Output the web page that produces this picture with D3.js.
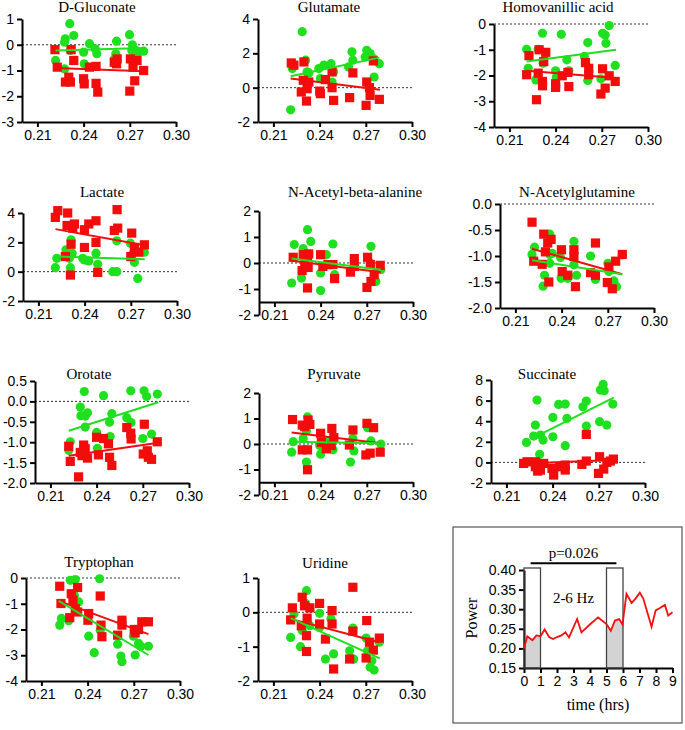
<!DOCTYPE html>
<html><head><meta charset="utf-8">
<script src="https://cdn.jsdelivr.net/npm/d3@7"></script>
<style>body{margin:0;background:#fff}svg{display:block}</style>
</head><body>
<script>
// ---------- DATA ----------
const xTickValues = [0.21, 0.24, 0.27, 0.30];

const gluconateGreen = [[0.231,0.82],[0.2336,0.36],[0.2281,0.23],[0.2276,0.10],[0.2314,-0.22],[0.2218,-0.61],[0.2277,-0.94],[0.240,-0.29],[0.2404,-0.74],[0.2438,0.04],[0.2475,-0.16],[0.2486,-0.35],[0.2614,0.14],[0.2609,-0.35],[0.260,-0.55],[0.2698,0.39],[0.2717,0.0],[0.2713,-0.22],[0.274,-0.22],[0.2751,-0.35],[0.279,-0.25]];
const gluconateRed = [[0.2214,-0.19],[0.2229,-0.87],[0.2319,-0.19],[0.2336,-0.61],[0.2282,-1.45],[0.2304,-1.26],[0.2314,-1.45],[0.240,-1.32],[0.2404,-1.52],[0.2438,-0.87],[0.2481,-0.84],[0.2481,-1.50],[0.2492,-1.84],[0.2599,-0.68],[0.2618,-0.55],[0.2614,-0.74],[0.2704,-0.55],[0.2721,-0.87],[0.2747,-0.61],[0.2732,-1.40],[0.270,-1.80],[0.279,-1.00]];
const gluconateFitGreen = [[0.2218,-0.22],[0.279,-0.13]];
const gluconateFitRed = [[0.2218,-0.90],[0.279,-1.03]];
const gluconateYTicks = [1,0,-1,-2,-3];

const glutamateGreen = [[0.2287,3.26],[0.2212,-1.29],[0.2223,1.11],[0.2309,1.60],[0.2319,0.92],[0.233,0.86],[0.2395,1.11],[0.2427,1.31],[0.2474,1.40],[0.2491,0.92],[0.2405,0.53],[0.2481,0.33],[0.261,2.09],[0.2616,1.60],[0.2588,1.21],[0.2706,2.18],[0.2728,1.99],[0.2696,1.79],[0.2749,1.70],[0.2788,1.40],[0.2754,0.62]];
const glutamateRed = [[0.2216,1.44],[0.2233,1.31],[0.2298,1.50],[0.2294,0.43],[0.233,0.33],[0.2281,-0.25],[0.2319,-0.06],[0.2315,-0.78],[0.2401,-0.20],[0.2405,-0.35],[0.2438,0.47],[0.2481,0.92],[0.2481,0.0],[0.2491,-0.74],[0.2595,-0.58],[0.2616,0.86],[0.2706,0.33],[0.2724,0.0],[0.2728,-0.45],[0.2702,-1.03],[0.2749,1.56],[0.2788,-0.68]];
const glutamateFitGreen = [[0.2212,0.66],[0.2788,1.75]];
const glutamateFitRed = [[0.2212,0.53],[0.2792,-0.12]];
const glutamateYTicks = [4,2,0,-2];

const homovanillicGreen = [[0.2212,-0.98],[0.2222,-1.72],[0.2272,-2.17],[0.2315,-0.36],[0.2287,-0.98],[0.2319,-1.52],[0.2437,-0.40],[0.240,-1.82],[0.2405,-2.06],[0.2473,-1.39],[0.2486,-1.82],[0.2587,-1.26],[0.2609,-0.72],[0.2609,-2.19],[0.2705,-0.36],[0.2722,-0.43],[0.2727,-0.75],[0.2748,-0.06],[0.2694,-2.13],[0.2787,-1.61]];
const homovanillicRed = [[0.2227,-1.23],[0.2212,-1.97],[0.2276,-2.94],[0.2293,-1.0],[0.2336,-1.10],[0.2287,-1.91],[0.2315,-2.23],[0.2315,-2.40],[0.2323,-1.46],[0.240,-2.32],[0.240,-2.46],[0.2443,-2.01],[0.248,-1.88],[0.2486,-2.43],[0.2594,-1.50],[0.2615,-1.72],[0.2615,-1.97],[0.2705,-1.74],[0.2722,-2.49],[0.2694,-2.72],[0.2748,-2.01],[0.2787,-2.23]];
const homovanillicFitGreen = [[0.2212,-1.46],[0.2792,-1.0]];
const homovanillicFitRed = [[0.2212,-1.82],[0.2792,-2.10]];
const homovanillicYTicks = [0,-1,-2,-3,-4];

const lactateGreen = [[0.221,0.27],[0.222,0.91],[0.2279,1.49],[0.2312,2.17],[0.2319,1.26],[0.2301,0.91],[0.2308,0.27],[0.2388,0.91],[0.2399,0.80],[0.2427,0.73],[0.2474,1.26],[0.2485,0.50],[0.2583,0.0],[0.2609,0.0],[0.2609,2.10],[0.2697,1.94],[0.2708,1.14],[0.2723,0.64],[0.2745,-0.46],[0.2788,1.33]];
const lactateRed = [[0.221,3.70],[0.2226,4.16],[0.229,4.0],[0.2286,3.15],[0.2323,2.97],[0.2334,3.25],[0.2312,1.87],[0.2275,1.03],[0.2308,-0.23],[0.2399,2.86],[0.2427,3.25],[0.2474,3.47],[0.2474,1.99],[0.2399,1.65],[0.2485,-0.05],[0.2593,2.81],[0.2615,2.97],[0.2611,4.23],[0.2706,2.63],[0.2723,1.65],[0.270,1.03],[0.2752,1.33],[0.2788,1.83]];
const lactateFitGreen = [[0.2216,1.03],[0.279,0.85]];
const lactateFitRed = [[0.2211,2.90],[0.279,1.80]];
const lactateYTicks = [4,2,0,-2];

const acetylAlanineGreen = [[0.2229,0.71],[0.2212,-0.77],[0.2287,0.55],[0.2315,1.28],[0.2336,0.83],[0.2276,-0.58],[0.2437,0.32],[0.240,-0.38],[0.240,-1.06],[0.248,0.73],[0.2491,-0.45],[0.2727,0.64],[0.2759,-0.71],[0.2791,-0.26],[0.2723,0.0]];
const acetylAlanineRed = [[0.2222,0.22],[0.2287,0.32],[0.2315,0.26],[0.2323,0.35],[0.228,-0.29],[0.2297,-0.06],[0.2319,-0.17],[0.2315,-0.96],[0.240,0.32],[0.2415,-0.13],[0.2448,-0.06],[0.248,-0.06],[0.2491,-0.60],[0.2594,-0.35],[0.2619,0.17],[0.2619,-0.13],[0.2705,0.22],[0.2701,-0.94],[0.2723,-0.06],[0.2727,-0.71],[0.2748,-0.45],[0.2787,-0.09]];
const acetylAlanineFitGreen = [[0.2212,0.17],[0.2791,-0.26]];
const acetylAlanineFitRed = [[0.2212,0.09],[0.2791,-0.36]];
const acetylAlanineYTicks = [2,1,0,-1,-2];

const acetylGlutamineGreen = [[0.2224,-0.83],[0.2208,-0.97],[0.2289,-1.37],[0.228,-1.58],[0.2323,-0.58],[0.2323,-0.97],[0.2323,-1.14],[0.2339,-0.95],[0.2393,-1.03],[0.2397,-1.43],[0.244,-1.43],[0.248,-0.72],[0.248,-1.17],[0.2497,-1.37],[0.2588,-1.0],[0.262,-1.45],[0.2701,-1.14],[0.2707,-1.30],[0.274,-1.48],[0.2757,-1.59],[0.2794,-0.98]];
const acetylGlutamineRed = [[0.2208,-0.35],[0.2219,-1.10],[0.2274,-1.16],[0.2284,-0.58],[0.2295,-0.92],[0.231,-0.75],[0.2332,-0.68],[0.2317,-1.50],[0.2399,-0.88],[0.2404,-1.30],[0.244,-1.37],[0.248,-0.88],[0.248,-1.01],[0.249,-1.59],[0.2588,-1.32],[0.262,-1.37],[0.262,-0.75],[0.2697,-1.51],[0.2707,-1.21],[0.2729,-1.63],[0.2751,-1.10],[0.2794,-0.97]];
const acetylGlutamineFitGreen = [[0.2208,-1.08],[0.2794,-1.35]];
const acetylGlutamineFitRed = [[0.2208,-0.86],[0.2794,-1.35]];
const acetylGlutamineYTicks = [0,-0.5,-1,-1.5,-2];

const orotateGreen = [[0.232,0.24],[0.2229,-0.99],[0.2219,-1.20],[0.2294,-0.14],[0.2298,-0.35],[0.2326,-0.36],[0.2341,-0.28],[0.2326,-0.63],[0.2445,0.14],[0.240,-0.76],[0.2405,-1.15],[0.2484,-0.51],[0.2499,-0.30],[0.2488,-0.86],[0.2596,-0.40],[0.2624,-0.52],[0.2622,0.26],[0.2708,0.26],[0.2725,0.12],[0.2794,0.18],[0.270,-0.91],[0.2757,-0.80]];
const orotateRed = [[0.2219,-1.10],[0.2229,-1.47],[0.2283,-1.85],[0.2294,-1.25],[0.2316,-1.07],[0.2326,-1.16],[0.2305,-1.33],[0.2341,-1.39],[0.240,-0.88],[0.2412,-1.31],[0.2445,-0.91],[0.2477,-1.04],[0.2484,-1.37],[0.2499,-1.57],[0.2596,-0.64],[0.2622,-0.78],[0.2624,-0.92],[0.271,-0.56],[0.2703,-1.29],[0.2729,-1.21],[0.2736,-1.37],[0.2757,-1.42],[0.2794,-0.99]];
const orotateFitGreen = [[0.2219,-0.72],[0.2800,-0.02]];
const orotateFitRed = [[0.2219,-1.33],[0.2790,-1.02]];
const orotateYTicks = [0.5,0,-0.5,-1,-1.5,-2];

const pyruvateGreen = [[0.2222,0.09],[0.2212,-0.32],[0.2287,0.22],[0.2315,1.06],[0.2308,0.51],[0.2308,-0.71],[0.2394,-0.06],[0.240,-0.40],[0.2437,0.12],[0.248,-0.23],[0.2594,-0.71],[0.261,0.22],[0.2616,-0.27],[0.2705,0.64],[0.2727,0.12],[0.2791,0.0]];
const pyruvateRed = [[0.2218,0.96],[0.2281,0.74],[0.2319,0.94],[0.233,0.77],[0.2297,0.68],[0.2281,-0.23],[0.2315,-0.23],[0.2315,-1.01],[0.240,0.42],[0.2405,0.06],[0.2437,-0.19],[0.2473,0.61],[0.2486,0.25],[0.2469,-0.06],[0.2587,-0.04],[0.261,0.55],[0.2701,0.81],[0.2744,0.64],[0.2694,-0.43],[0.2722,-0.36],[0.2787,-0.32]];
const pyruvateFitGreen = [[0.2212,0.09],[0.2791,0.03]];
const pyruvateFitRed = [[0.2212,0.45],[0.2791,0.03]];
const pyruvateYTicks = [2,1,0,-1,-2];

const succinateGreen = [[0.223,1.94],[0.2299,6.05],[0.2288,3.62],[0.2277,2.56],[0.2321,2.65],[0.2338,2.17],[0.2316,0.78],[0.2402,4.37],[0.2402,2.49],[0.2439,5.63],[0.2482,5.66],[0.2493,4.27],[0.2482,1.62],[0.2597,5.40],[0.2619,5.95],[0.2619,3.53],[0.2705,3.95],[0.271,7.02],[0.2728,7.57],[0.2735,6.96],[0.2752,3.62],[0.2791,5.66]];
const succinateRed = [[0.2619,2.72],[0.2212,-0.10],[0.2234,0.06],[0.2288,0.06],[0.2288,-0.42],[0.2303,-0.84],[0.2321,-0.74],[0.2342,-0.10],[0.2396,-0.58],[0.2407,-1.23],[0.2446,-0.42],[0.2482,-0.74],[0.2482,-0.26],[0.259,-0.19],[0.2619,0.13],[0.2705,0.55],[0.2698,-1.07],[0.2732,-0.65],[0.2752,0.0],[0.2775,0.13],[0.2795,0.32]];
const succinateFitGreen = [[0.2333,2.82],[0.2797,6.28]];
const succinateFitRed = [[0.2212,-0.10],[0.2797,0.23]];
const succinateYTicks = [8,6,4,2,0,-2];

const tryptophanGreen = [[0.2288,-0.09],[0.232,-0.06],[0.2219,-1.83],[0.223,-1.57],[0.2277,-1.66],[0.2314,-0.67],[0.2342,-0.93],[0.2478,-0.03],[0.2407,-2.26],[0.2443,-2.90],[0.2482,-2.03],[0.2595,-2.57],[0.2616,-3.03],[0.2623,-3.25],[0.2709,-2.99],[0.2698,-2.26],[0.2731,-2.54],[0.2746,-2.65],[0.2795,-2.65]];
const tryptophanRed = [[0.2219,-0.32],[0.2227,-0.99],[0.2284,-1.54],[0.2294,-0.61],[0.2305,-0.86],[0.2335,-0.37],[0.232,-1.19],[0.2335,-1.32],[0.2407,-1.38],[0.2402,-1.64],[0.2482,-0.70],[0.2487,-1.83],[0.2493,-2.28],[0.2595,-2.22],[0.2623,-1.64],[0.2623,-1.83],[0.2703,-2.0],[0.2709,-2.13],[0.2731,-2.0],[0.2752,-1.70],[0.2795,-1.70]];
const tryptophanFitGreen = [[0.2212,-0.89],[0.2795,-2.99]];
const tryptophanFitRed = [[0.2212,-0.89],[0.2795,-2.18]];
const tryptophanYTicks = [0,-1,-2,-3,-4];

const uridineGreen = [[0.2212,-0.73],[0.2233,-0.05],[0.2276,-1.0],[0.2287,-0.53],[0.2315,0.63],[0.2309,0.26],[0.2337,-0.39],[0.240,-0.03],[0.240,-0.44],[0.2438,-1.36],[0.2474,-0.19],[0.2491,-1.21],[0.2595,-1.12],[0.2616,-0.46],[0.2621,-1.36],[0.2702,-0.75],[0.2711,-1.12],[0.2739,-1.41],[0.2728,-1.60],[0.2754,-1.68],[0.2788,-0.87]];
const uridineRed = [[0.2223,0.13],[0.2212,-0.22],[0.2287,0.44],[0.2302,0.19],[0.2337,0.13],[0.2281,-0.39],[0.2319,-0.17],[0.2315,-0.68],[0.2315,-1.14],[0.240,0.26],[0.240,-0.34],[0.2438,-0.78],[0.2481,0.05],[0.2481,-0.34],[0.2491,-1.65],[0.2616,0.73],[0.2616,-0.55],[0.2595,-1.36],[0.2706,-0.24],[0.2702,-1.33],[0.2724,-0.87],[0.2749,-1.10],[0.2788,-0.75]];
const uridineFitGreen = [[0.2212,-0.17],[0.2791,-1.34]];
const uridineFitRed = [[0.2212,-0.19],[0.2787,-0.87]];
const uridineYTicks = [1,0,-1,-2];

// power time series (hrs, power)
const powerTime = [0,0.2,0.51,0.75,1.0,1.25,1.52,1.76,2.0,2.27,2.51,2.73,3.22,3.48,3.99,4.49,5.0,5.26,5.51,5.77,5.97,6.21,6.52,6.76,7.02,7.23,7.73,7.98,8.24,8.54,8.74,9.0];
const powerValue = [0.200,0.231,0.221,0.233,0.231,0.248,0.229,0.224,0.229,0.233,0.241,0.228,0.275,0.241,0.261,0.279,0.262,0.245,0.271,0.275,0.261,0.339,0.316,0.327,0.342,0.327,0.255,0.297,0.303,0.311,0.284,0.292];
const powerXTicks = [0,1,2,3,4,5,6,7,8,9];
const powerYTicks = [0.15,0.20,0.25,0.30,0.35,0.40];
const shadedWindows = [[0,1],[5,6]];
const bracket = {from:0.4, to:5.6, level:0.417, label:"p=0.026"};

// ---------- LAYOUT ----------
const panels = [
 {title:"D-Gluconate", g:gluconateGreen, r:gluconateRed, fg:gluconateFitGreen, fr:gluconateFitRed, yt:gluconateYTicks, dec:0, ax:22, y0:19, y1:122, xAt:-3, tx:97, ty:12},
 {title:"Glutamate", g:glutamateGreen, r:glutamateRed, fg:glutamateFitGreen, fr:glutamateFitRed, yt:glutamateYTicks, dec:0, ax:258, y0:19, y1:122, xAt:-2, tx:329, ty:12},
 {title:"Homovanillic acid", g:homovanillicGreen, r:homovanillicRed, fg:homovanillicFitGreen, fr:homovanillicFitRed, yt:homovanillicYTicks, dec:0, ax:494, y0:24, y1:127, xAt:-4, tx:558, ty:12},
 {title:"Lactate", g:lactateGreen, r:lactateRed, fg:lactateFitGreen, fr:lactateFitRed, yt:lactateYTicks, dec:0, ax:23, y0:213, y1:301, xAt:-2, tx:102, ty:197},
 {title:"N-Acetyl-beta-alanine", g:acetylAlanineGreen, r:acetylAlanineRed, fg:acetylAlanineFitGreen, fr:acetylAlanineFitRed, yt:acetylAlanineYTicks, dec:0, ax:259, y0:211, y1:315, xAt:-1.5, tx:355, ty:197},
 {title:"N-Acetylglutamine", g:acetylGlutamineGreen, r:acetylGlutamineRed, fg:acetylGlutamineFitGreen, fr:acetylGlutamineFitRed, yt:acetylGlutamineYTicks, dec:1, ax:500, y0:204, y1:308, xAt:-2, tx:577, ty:197},
 {title:"Orotate", g:orotateGreen, r:orotateRed, fg:orotateFitGreen, fr:orotateFitRed, yt:orotateYTicks, dec:1, ax:35, y0:381, y1:483, xAt:-2, tx:89, ty:379},
 {title:"Pyruvate", g:pyruvateGreen, r:pyruvateRed, fg:pyruvateFitGreen, fr:pyruvateFitRed, yt:pyruvateYTicks, dec:0, ax:259, y0:393, y1:495, xAt:-1.5, tx:334, ty:379},
 {title:"Succinate", g:succinateGreen, r:succinateRed, fg:succinateFitGreen, fr:succinateFitRed, yt:succinateYTicks, dec:0, ax:491, y0:380, y1:483, xAt:-2, tx:547, ty:379},
 {title:"Tryptophan", g:tryptophanGreen, r:tryptophanRed, fg:tryptophanFitGreen, fr:tryptophanFitRed, yt:tryptophanYTicks, dec:0, ax:26, y0:578, y1:681, xAt:-4, tx:99, ty:567},
 {title:"Uridine", g:uridineGreen, r:uridineRed, fg:uridineFitGreen, fr:uridineFitRed, yt:uridineYTicks, dec:0, ax:258, y0:578, y1:681, xAt:-2, tx:325, ty:568}
];

const GREEN = "#1ee01e", RED = "#f20c0c";
const W = 685, H = 730;
const svg = d3.select("body").append("svg").attr("width", W).attr("height", H);

panels.forEach(p => {
  const g = svg.append("g");
  const x = d3.scaleLinear().domain([0.20, 0.30]).range([p.ax, p.ax + 154]);
  const yMax = d3.max(p.yt), yMin = d3.min(p.yt);
  const y = d3.scaleLinear().domain([yMax, yMin]).range([p.y0, p.y1]);

  // dotted zero line
  g.append("line").attr("x1", x(0.20)).attr("x2", x(0.30)).attr("y1", y(0)).attr("y2", y(0))
    .attr("stroke", "#333").attr("stroke-width", 1).attr("stroke-dasharray", "2,2");

  const ya = g.append("g").attr("transform", `translate(${p.ax},0)`)
    .call(d3.axisLeft(y).tickValues(p.yt).tickSize(5).tickSizeOuter(0).tickPadding(3)
      .tickFormat(d => d.toFixed(p.dec)));
  const xa = g.append("g").attr("transform", `translate(0,${y(p.xAt)})`)
    .call(d3.axisBottom(x).tickValues(xTickValues).tickSize(5).tickSizeOuter(0).tickPadding(3)
      .tickFormat(d3.format(".2f")));
  [ya, xa].forEach(a => {
    a.select(".domain").attr("stroke", "#000").attr("stroke-width", 2);
    a.selectAll(".tick line").attr("stroke", "#000").attr("stroke-width", 2);
    a.selectAll(".tick text").attr("fill", "#000").style("font-family", "Liberation Sans, Arial, sans-serif").style("font-size", "14px");
  });

  g.selectAll(".gc").data(p.g).enter().append("circle")
    .attr("cx", d => x(d[0])).attr("cy", d => y(d[1])).attr("r", 4.6).attr("fill", GREEN);
  g.selectAll(".rs").data(p.r).enter().append("rect")
    .attr("x", d => x(d[0]) - 4.6).attr("y", d => y(d[1]) - 4.6).attr("width", 9.2).attr("height", 9.2).attr("fill", RED);

  const line = d3.line().x(d => x(d[0])).y(d => y(d[1]));
  g.append("path").datum(p.fr).attr("d", line).attr("stroke", RED).attr("stroke-width", 2).attr("fill", "none");
  g.append("path").datum(p.fg).attr("d", line).attr("stroke", GREEN).attr("stroke-width", 2).attr("fill", "none");

  g.append("text").attr("x", p.tx).attr("y", p.ty).attr("text-anchor", "middle")
    .style("font-family", "Liberation Serif, Times New Roman, serif").style("font-size", "15px")
    .style("font-weight", "normal").text(p.title);
});

// ---------- POWER PANEL ----------
svg.append("rect").attr("x", 453).attr("y", 527).attr("width", 229).attr("height", 196)
  .attr("fill", "none").attr("stroke", "#555").attr("stroke-width", 1.2);

const px = d3.scaleLinear().domain([0, 9]).range([524, 672.5]);
const py = d3.scaleLinear().domain([0.15, 0.40]).range([668, 570]);
const pg = svg.append("g");
const series = powerTime.map((t, i) => [t, powerValue[i]]);

const defs = pg.append("defs");
shadedWindows.forEach((w, i) => {
  defs.append("clipPath").attr("id", "win" + i).append("rect")
    .attr("x", px(w[0])).attr("y", py(0.40)).attr("width", px(w[1]) - px(w[0])).attr("height", py(0.15) - py(0.40));
  pg.append("path").datum(series).attr("clip-path", `url(#win${i})`)
    .attr("d", d3.area().x(d => px(d[0])).y0(py(0.15)).y1(d => py(d[1])))
    .attr("fill", "#d3d3d3");
});

const pya = pg.append("g").attr("transform", `translate(${px(0)},0)`)
  .call(d3.axisLeft(py).tickValues(powerYTicks).tickSize(5).tickSizeOuter(0).tickPadding(3).tickFormat(d => d.toFixed(2)));
const pxa = pg.append("g").attr("transform", `translate(0,${py(0.15)})`)
  .call(d3.axisBottom(px).tickValues(powerXTicks).tickSize(5).tickSizeOuter(0).tickPadding(3).tickFormat(d3.format("d")));
[pya, pxa].forEach(a => {
  a.select(".domain").attr("stroke", "#000").attr("stroke-width", 2);
  a.selectAll(".tick line").attr("stroke", "#000").attr("stroke-width", 2);
  a.selectAll(".tick text").attr("fill", "#000").style("font-family", "Liberation Sans, Arial, sans-serif").style("font-size", "14px");
});

shadedWindows.forEach(w => {
  pg.append("rect").attr("x", px(w[0])).attr("y", py(0.40) - 2).attr("width", px(w[1]) - px(w[0]))
    .attr("height", py(0.15) - py(0.40) + 2).attr("fill", "none").attr("stroke", "#444").attr("stroke-width", 1.3);
});

pg.append("path").datum(series).attr("d", d3.line().x(d => px(d[0])).y(d => py(d[1])))
  .attr("fill", "none").attr("stroke", "#f21010").attr("stroke-width", 1.8);

pg.append("line").attr("x1", px(bracket.from)).attr("x2", px(bracket.to)).attr("y1", py(bracket.level)).attr("y2", py(bracket.level))
  .attr("stroke", "#000").attr("stroke-width", 2);
pg.append("text").attr("x", px(3.0)).attr("y", py(bracket.level) - 5).attr("text-anchor", "middle")
  .style("font-family", "Liberation Serif, Times New Roman, serif").style("font-size", "15px").text(bracket.label);
pg.append("text").attr("x", px(3.0)).attr("y", 603).attr("text-anchor", "middle")
  .style("font-family", "Liberation Serif, Times New Roman, serif").style("font-size", "15px").text("2-6 Hz");
pg.append("text").attr("transform", "translate(477,618) rotate(-90)").attr("text-anchor", "middle")
  .style("font-family", "Liberation Serif, Times New Roman, serif").style("font-size", "16px").text("Power");
pg.append("text").attr("x", 598).attr("y", 710).attr("text-anchor", "middle")
  .style("font-family", "Liberation Serif, Times New Roman, serif").style("font-size", "16px").text("time (hrs)");
</script>
</body></html>
